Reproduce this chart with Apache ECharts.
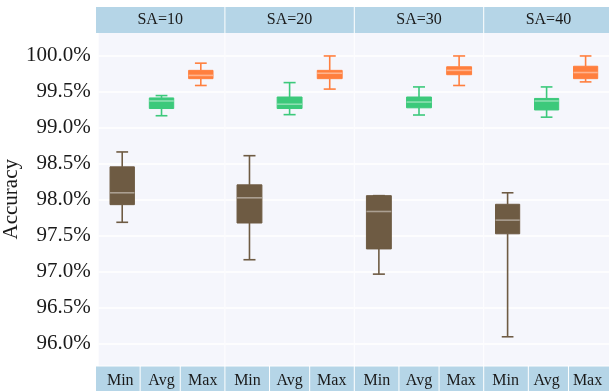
<!DOCTYPE html>
<html><head><meta charset="utf-8">
<script src="https://cdn.jsdelivr.net/npm/echarts@6/dist/echarts.min.js"></script>
<style>html,body{margin:0;padding:0;background:#fff}#c{width:609px;height:391px}</style>
</head><body><div id="c"></div>
<script>
const panels = ['SA=10', 'SA=20', 'SA=30', 'SA=40'];
const categories = ['Min', 'Avg', 'Max'];
const yTicks = [96.0, 96.5, 97.0, 97.5, 98.0, 98.5, 99.0, 99.5, 100.0];
// five-number summaries per panel: [low whisker, Q1, median, Q3, high whisker]
const minStats = [
  [97.69, 97.935, 98.10, 98.46, 98.667],
  [97.17, 97.68, 98.03, 98.21, 98.615],
  [96.97, 97.32, 97.84, 98.06, 98.06],
  [96.10, 97.53, 97.72, 97.94, 98.10]
];
const avgStats = [
  [99.17, 99.27, 99.375, 99.417, 99.45],
  [99.185, 99.27, 99.33, 99.43, 99.63],
  [99.18, 99.28, 99.36, 99.43, 99.57],
  [99.15, 99.25, 99.375, 99.41, 99.57]
];
const maxStats = [
  [99.59, 99.685, 99.73, 99.80, 99.90],
  [99.54, 99.685, 99.76, 99.80, 100.0],
  [99.59, 99.74, 99.80, 99.85, 100.0],
  [99.64, 99.685, 99.77, 99.857, 100.0]
];

const catColors = ['#6e5b43', '#3cc97b', '#ff7f3e'];
const FONT = "'Liberation Serif','Times New Roman',serif";
const LEFT0 = 96, STEP = 129.4, PW = 128.4, TOP = 33, BOTTOM = 25.5;
const XMIN = -0.6, XMAX = 2.6;
const YMIN = 95.701, YMAX = 100.319;

function renderBox(params, api) {
  const x = api.value(0);
  const lo = api.coord([x, api.value(1)]);
  const q1 = api.coord([x, api.value(2)]);
  const md = api.coord([x, api.value(3)]);
  const q3 = api.coord([x, api.value(4)]);
  const hi = api.coord([x, api.value(5)]);
  const bw = api.size([0.62, 0])[0];
  const cw = api.size([0.3, 0])[0];
  const color = catColors[x];
  const cx = lo[0];
  const ls = { stroke: color, lineWidth: 1.6 };
  return {
    type: 'group', children: [
      { type: 'line', shape: { x1: cx, y1: hi[1], x2: cx, y2: q3[1] }, style: ls },
      { type: 'line', shape: { x1: cx, y1: q1[1], x2: cx, y2: lo[1] }, style: ls },
      { type: 'line', shape: { x1: cx - cw / 2, y1: hi[1], x2: cx + cw / 2, y2: hi[1] }, style: ls },
      { type: 'line', shape: { x1: cx - cw / 2, y1: lo[1], x2: cx + cw / 2, y2: lo[1] }, style: ls },
      { type: 'rect', shape: { x: cx - bw / 2, y: q3[1], width: bw, height: q1[1] - q3[1] },
        style: { fill: color, stroke: color, lineWidth: 1 } },
      { type: 'line', shape: { x1: cx - bw / 2, y1: md[1], x2: cx + bw / 2, y2: md[1] },
        style: { stroke: 'rgba(255,255,255,0.42)', lineWidth: 1.6 } }
    ]
  };
}

const grids = [], xAxes = [], yAxes = [], series = [], graphics = [];
panels.forEach((p, i) => {
  const left = LEFT0 + i * STEP;
  grids.push({ left: left, top: TOP, width: PW, bottom: BOTTOM, show: true,
    backgroundColor: '#f5f6fc', borderWidth: 0 });
  xAxes.push({ type: 'value', gridIndex: i, min: XMIN, max: XMAX,
    axisLine: { show: false }, axisTick: { show: false, customValues: [0, 1, 2] },
    splitLine: { show: false },
    axisLabel: { customValues: [-0.05, 1, 2.05], formatter: v => categories[Math.round(v)],
      fontFamily: FONT, fontSize: 16, color: '#1a1a1a', margin: 7 } });
  yAxes.push({ type: 'value', gridIndex: i, min: YMIN, max: YMAX,
    name: i === 0 ? 'Accuracy' : '', nameLocation: 'middle', nameGap: 67,
    nameTextStyle: { fontFamily: FONT, fontSize: 21, color: '#1a1a1a' },
    axisLine: { show: false }, axisTick: { show: false, customValues: yTicks },
    splitLine: { show: true, lineStyle: { color: '#ffffff', width: 1.6 } },
    axisLabel: { show: i === 0, customValues: yTicks, formatter: v => v.toFixed(1) + '%',
      fontFamily: FONT, fontSize: 21, color: '#1a1a1a', margin: 8 } });
  const stats = [minStats[i], avgStats[i], maxStats[i]];
  series.push({ type: 'custom', xAxisIndex: i, yAxisIndex: i, renderItem: renderBox,
    encode: { x: 0, y: [1, 2, 3, 4, 5] },
    data: categories.map((c, k) => [k].concat(stats[k])) });
  // header strip
  graphics.push({ type: 'rect', left: left, top: 7, shape: { width: PW, height: 26 },
    style: { fill: '#b5d5e7' }, z: 0 });
  graphics.push({ type: 'text', x: left + PW / 2, y: 20,
    style: { text: p, fontFamily: FONT, fontSize: 16, fill: '#1a1a1a', align: 'center', verticalAlign: 'middle' }, z: 1 });
  // bottom strip cells
  const bounds = [XMIN, 0.5, 1.5, XMAX].map(v => left + (v - XMIN) / (XMAX - XMIN) * PW);
  for (let k = 0; k < 3; k++) {
    const x0 = bounds[k] + (k > 0 ? 0.5 : 0), x1 = bounds[k + 1] - (k < 2 ? 0.5 : 0);
    graphics.push({ type: 'rect', x: x0, y: 366.5, shape: { width: x1 - x0, height: 30 },
      style: { fill: '#b5d5e7' }, z: -1 });
  }
});

const chart = echarts.init(document.getElementById('c'));
chart.setOption({
  animation: false,
  backgroundColor: '#ffffff',
  grid: grids, xAxis: xAxes, yAxis: yAxes, series: series,
  graphic: { elements: graphics }
});
</script></body></html>
